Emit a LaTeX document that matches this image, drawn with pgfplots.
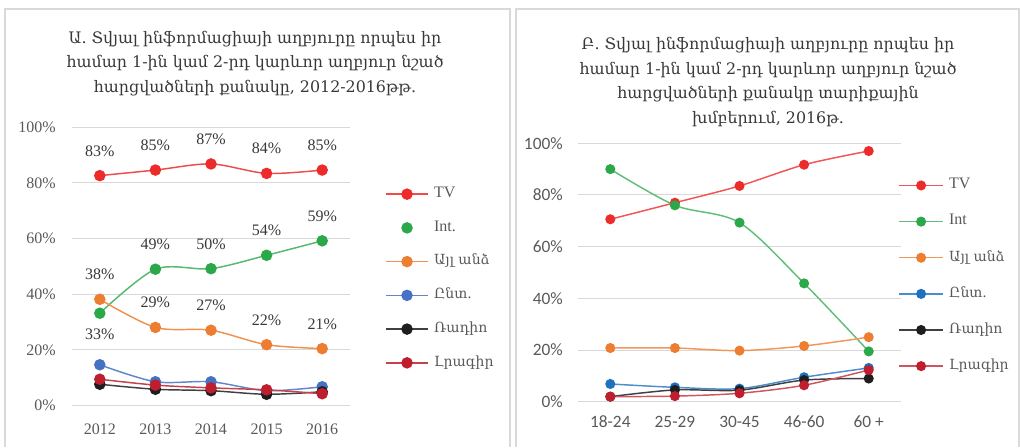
\documentclass[border=0pt]{standalone}
\usepackage{fontspec}
\setmainfont{Liberation Serif}
\newfontfamily\armfont{DejaVu Serif}
\newfontfamily\carl{Carlito}
\usepackage{pgfplots}
\usepackage{pgfplotstable}
\pgfplotsset{compat=1.18}

\definecolor{tvc}{HTML}{EE2B2B}
\definecolor{intc}{HTML}{2BA84A}
\definecolor{othc}{HTML}{ED7D31}
\definecolor{bluA}{HTML}{4472C4}
\definecolor{bluB}{HTML}{1F70BF}
\definecolor{blkc}{HTML}{1E1E1E}
\definecolor{radc}{HTML}{BE1E2D}
\definecolor{txt}{HTML}{595959}
\definecolor{ttl}{HTML}{383838}
\definecolor{grd}{HTML}{D9D9D9}

\newcommand{\arm}[1]{{\armfont\fontsize{10.5}{12}\selectfont #1}}

\pgfplotstableread{
year tv   int  oth  fam  rad news tvl intl othl ints
2012 82.6 33.2 38.2 14.7 7.7 9.5  83  33   38   -16
2013 84.6 49.0 28.1 8.6  5.9 7.4  85  49   29   18.5
2014 86.8 49.2 27.1 8.6  5.4 6.4  87  50   27   18.5
2015 83.4 54.0 21.9 5.4  4.1 5.7  84  54   22   18.5
2016 84.6 59.2 20.5 6.8  5.0 4.3  85  59   21   18.5
}\dataA

\pgfplotstableread{
g  tv   int  oth  fam  rad news
0  70.6 90.0 20.8 6.9  2.0 2.0
1  77.0 76.0 20.8 5.6  4.6 2.2
2  83.5 69.3 19.8 5.1  4.5 3.3
3  91.7 45.8 21.6 9.5  8.4 6.4
4  97.0 19.5 25.0 13.1 9.0 12.3
}\dataB

\pgfplotsset{
  base/.style={
    scale only axis, clip=false,
    axis line style={draw=none}, tick style={draw=none},
    ymin=0, ymax=100, ytick={0,20,...,100},
    ymajorgrids, grid style={grd, line width=0.75pt},
    yticklabel={\pgfmathprintnumber[assume math mode=true]{\tick}\%},
    tick label style={text=txt, font=\fontsize{12}{14}\selectfont},
    legend cell align=left,
    legend style={draw=none, fill=none, inner sep=0pt, text=txt,
      font=\fontsize{12}{14}\selectfont,
      nodes={inner sep=0pt, text height=7pt, text depth=2pt},
      /tikz/every odd column/.style={column sep=4pt}},
  },
}

\begin{document}
\begin{tikzpicture}[x=0.75pt,y=0.75pt]
\useasboundingbox (0,0) rectangle (1020,447);
\coordinate (pA) at (72,41.3);
\coordinate (pB) at (578,45.2);
\draw[grd, line width=1.5pt] (5,0) -- (5,438) -- (510,438) -- (510,0);
\draw[grd, line width=1.5pt] (516,0) -- (516,438) -- (1019,438) -- (1019,0);

\node[align=center, text=ttl, font=\armfont\fontsize{11.9}{18.4}\selectfont] at (255,383.5)
 {Ա. Տվյալ ինֆորմացիայի աղբյուրը որպես իր\\ համար 1-ին կամ 2-րդ կարևոր աղբյուր նշած\\ հարցվածների քանակը, 2012-2016թթ.};
\node[align=center, text=ttl, font=\armfont\fontsize{11.9}{18.4}\selectfont] at (768,365)
 {Բ. Տվյալ ինֆորմացիայի աղբյուրը որպես իր\\ համար 1-ին կամ 2-րդ կարևոր աղբյուր նշած\\ հարցվածների քանակը տարիքային\\ խմբերում, 2016թ.};

\begin{axis}[base,
  at={(pA)}, anchor=south west,
  width=208.5pt, height=208.9pt,
  xmin=2011.5, xmax=2016.5, xtick={2012,...,2016},
  xticklabel={\pgfmathprintnumber[assume math mode=true,1000 sep={}]{\tick}},
  xticklabel style={anchor=center, yshift=-18pt},
  yticklabel style={anchor=east, inner sep=0pt, xshift=-12pt},
  legend style={at={(1.126,0.782)}, anchor=north west, row sep=16.3pt},
  legend image code/.code={\draw[mark repeat=2,mark phase=2,#1] plot coordinates {(0pt,0pt) (15.75pt,0pt) (31.5pt,0pt)};},
  every axis plot/.append style={line width=1.1pt, mark=*, mark size=3.75pt, smooth},
  nodes near coords={\pgfplotspointmeta\%},
  every node near coord/.append style={anchor=center, text=ttl, font=\fontsize{12}{14}\selectfont, inner sep=0pt},
]
\addplot[tvc!85!white, mark options={fill=tvc, draw=tvc}, point meta=explicit symbolic,
  every node near coord/.append style={yshift=18.5pt}] table[x=year, y=tv, meta=tvl] {\dataA};
\addlegendentry{TV}
\addplot[forget plot, intc!80!white, mark options={fill=intc, draw=intc}, point meta=explicit symbolic,
  visualization depends on={\thisrow{ints} \as \sh},
  every node near coord/.append style={yshift=\sh pt}] table[x=year, y=int, meta=intl] {\dataA};
\addlegendimage{white, mark=*, mark size=3.75pt, mark options={fill=intc, draw=intc}}
\addlegendentry{Int.}
\addplot[othc!85!white, mark options={fill=othc, draw=othc}, point meta=explicit symbolic,
  every node near coord/.append style={yshift=18.5pt}] table[x=year, y=oth, meta=othl] {\dataA};
\addlegendentry{\arm{Այլ անձ}}
\addplot[bluA!85!white, mark options={fill=bluA, draw=bluA}, nodes near coords={}] table[x=year, y=fam] {\dataA};
\addlegendentry{\arm{Ընտ.}}
\addplot[blkc!85!white, mark options={fill=blkc, draw=blkc}, nodes near coords={}] table[x=year, y=rad] {\dataA};
\addlegendentry{\arm{Ռադիո}}
\addplot[radc!85!white, mark options={fill=radc, draw=radc}, nodes near coords={}] table[x=year, y=news] {\dataA};
\addlegendentry{\arm{Լրագիր}}
\end{axis}

\begin{axis}[base,
  at={(pB)}, anchor=south west,
  width=242.25pt, height=193.9pt,
  xmin=-0.5, xmax=4.5, xtick={0,...,4},
  xticklabels={18-24,25-29,30-45,46-60,60 +},
  tick label style={font=\carl\fontsize{13}{15}\selectfont},
  xticklabel style={anchor=center, yshift=-15pt},
  yticklabel style={anchor=east, inner sep=0pt, xshift=-11.25pt},
  legend style={at={(0.991,0.861)}, anchor=north west, row sep=18.1pt},
  legend image code/.code={\draw[mark repeat=2,mark phase=2,#1] plot coordinates {(0pt,0pt) (16.5pt,0pt) (33pt,0pt)};},
  every axis plot/.append style={line width=1.1pt, mark=*, mark size=3.2pt, smooth},
]
\addplot[tvc!80!white, mark options={fill=tvc, draw=tvc}] table[x=g, y=tv] {\dataB};
\addlegendentry{TV}
\addplot[intc!75!white, mark options={fill=intc, draw=intc}] table[x=g, y=int] {\dataB};
\addlegendentry{Int}
\addplot[othc!80!white, mark options={fill=othc, draw=othc}] table[x=g, y=oth] {\dataB};
\addlegendentry{\arm{Այլ անձ}}
\addplot[bluB!80!white, mark options={fill=bluB, draw=bluB}] table[x=g, y=fam] {\dataB};
\addlegendentry{\arm{Ընտ.}}
\addplot[blkc!85!white, mark options={fill=blkc, draw=blkc}] table[x=g, y=rad] {\dataB};
\addlegendentry{\arm{Ռադիո}}
\addplot[radc!75!white, mark options={fill=radc, draw=radc}] table[x=g, y=news] {\dataB};
\addlegendentry{\arm{Լրագիր}}
\end{axis}
\end{tikzpicture}
\end{document}
